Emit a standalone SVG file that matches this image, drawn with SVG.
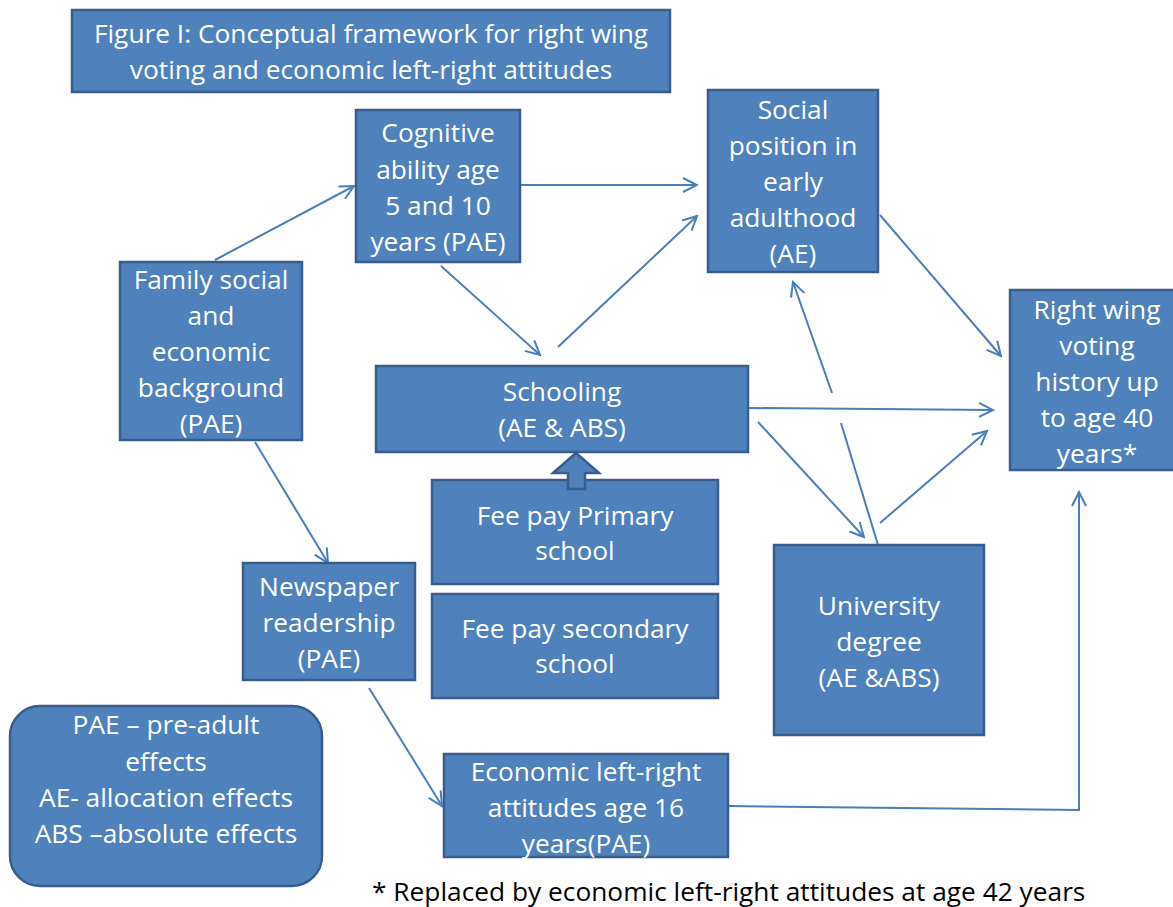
<svg xmlns="http://www.w3.org/2000/svg" width="1173" height="907" viewBox="0 0 1173 907">
<defs>
<style>
.box{fill:#4F81BD;stroke:#385D8A;stroke-width:2.5}
.t{fill:#fff;font-family:"Open Sans","Liberation Sans",Arial,sans-serif;font-size:26.3px;text-anchor:middle}
.c{fill:none;stroke:#4A7EBB;stroke-width:2}
.foot{fill:#000;font-family:"Open Sans","Liberation Sans",Arial,sans-serif;font-size:26.3px}
</style>
<marker id="ah" viewBox="0 0 20 20" refX="18" refY="10" markerWidth="20" markerHeight="20" markerUnits="userSpaceOnUse" orient="auto">
<polyline points="4,3 18,10 4,17" fill="none" stroke="#4A7EBB" stroke-width="2"/>
</marker>
</defs>
<rect width="1173" height="907" fill="#fff"/>

<g id="title">
<rect class="box" x="72" y="10" width="598" height="82"/>
<text class="t" x="371" y="43">Figure I: Conceptual framework for right wing</text>
<text class="t" x="371" y="79">voting and economic left-right attitudes</text>
</g>

<g id="connectors">
<line class="c" x1="215" y1="260" x2="354" y2="186" marker-end="url(#ah)"/>
<line class="c" x1="520" y1="185" x2="697" y2="185" marker-end="url(#ah)"/>
<line class="c" x1="441" y1="266" x2="540" y2="355" marker-end="url(#ah)"/>
<line class="c" x1="558" y1="347" x2="697" y2="216" marker-end="url(#ah)"/>
<line class="c" x1="880" y1="215" x2="1001" y2="356" marker-end="url(#ah)"/>
<line class="c" x1="748" y1="408" x2="993" y2="410" marker-end="url(#ah)"/>
<line class="c" x1="758" y1="422" x2="864" y2="537" marker-end="url(#ah)"/>
<line class="c" x1="880" y1="523" x2="987" y2="431" marker-end="url(#ah)"/>
<line class="c" x1="878" y1="545" x2="841" y2="423"/>
<line class="c" x1="832" y1="393" x2="793" y2="282" marker-end="url(#ah)"/>
<line class="c" x1="255" y1="442" x2="328" y2="563" marker-end="url(#ah)"/>
<line class="c" x1="369" y1="688" x2="442" y2="806" marker-end="url(#ah)"/>
<polyline class="c" points="728,806 1079,810 1079,492" marker-end="url(#ah)"/>
</g>

<g id="cognitive">
<rect class="box" x="356" y="110" width="164" height="152"/>
<text class="t" x="438" y="142">Cognitive</text>
<text class="t" x="438" y="179">ability age</text>
<text class="t" x="438" y="215">5 and 10</text>
<text class="t" x="438" y="251">years (PAE)</text>
</g>

<g id="social">
<rect class="box" x="708" y="90" width="170" height="182"/>
<text class="t" x="793" y="119">Social</text>
<text class="t" x="793" y="155">position in</text>
<text class="t" x="793" y="191">early</text>
<text class="t" x="793" y="227">adulthood</text>
<text class="t" x="793" y="263">(AE)</text>
</g>

<g id="family">
<rect class="box" x="120" y="262" width="182" height="178"/>
<text class="t" x="211" y="289">Family social</text>
<text class="t" x="211" y="325">and</text>
<text class="t" x="211" y="361">economic</text>
<text class="t" x="211" y="397">background</text>
<text class="t" x="211" y="433">(PAE)</text>
</g>

<g id="schooling">
<rect class="box" x="376" y="366" width="372" height="86"/>
<text class="t" x="562" y="401">Schooling</text>
<text class="t" x="562" y="437">(AE &amp; ABS)</text>
</g>

<g id="rightwing">
<rect class="box" x="1010" y="290" width="172" height="180"/>
<text class="t" x="1097" y="319">Right wing</text>
<text class="t" x="1097" y="355">voting</text>
<text class="t" x="1097" y="391">history up</text>
<text class="t" x="1097" y="427">to age 40</text>
<text class="t" x="1097" y="463">years*</text>
</g>

<g id="feeprimary">
<rect class="box" x="432" y="480" width="286" height="104"/>
<text class="t" x="575" y="525">Fee pay Primary</text>
<text class="t" x="575" y="560">school</text>
</g>

<g id="block-arrow">
<polygon class="box" points="576,453 599,473 585,473 585,489 568,489 568,473 553,473"/>
</g>

<g id="feesecondary">
<rect class="box" x="432" y="594" width="286" height="104"/>
<text class="t" x="575" y="638">Fee pay secondary</text>
<text class="t" x="575" y="673">school</text>
</g>

<g id="newspaper">
<rect class="box" x="243" y="563" width="172" height="117"/>
<text class="t" x="329" y="596">Newspaper</text>
<text class="t" x="329" y="632">readership</text>
<text class="t" x="329" y="668">(PAE)</text>
</g>

<g id="university">
<rect class="box" x="774" y="545" width="210" height="190"/>
<text class="t" x="879" y="615">University</text>
<text class="t" x="879" y="651">degree</text>
<text class="t" x="879" y="687">(AE &amp;ABS)</text>
</g>

<g id="legend">
<rect class="box" x="10" y="706" width="312" height="180" rx="30" ry="30"/>
<text class="t" x="166" y="734">PAE – pre-adult</text>
<text class="t" x="166" y="771">effects</text>
<text class="t" x="166" y="807">AE- allocation effects</text>
<text class="t" x="166" y="843">ABS –absolute effects</text>
</g>

<g id="economic">
<rect class="box" x="444" y="754" width="284" height="103"/>
<text class="t" x="586" y="781">Economic left-right</text>
<text class="t" x="586" y="817">attitudes age 16</text>
<text class="t" x="586" y="853">years(PAE)</text>
</g>

<g id="footnote">
<text class="foot" x="372" y="901">* Replaced by economic left-right attitudes at age 42 years</text>
</g>
</svg>
